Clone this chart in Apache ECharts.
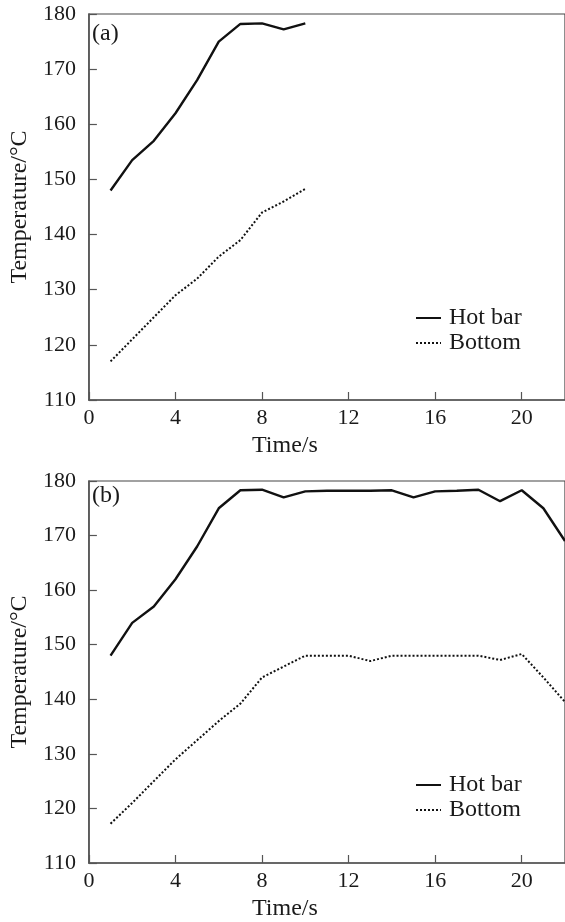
<!DOCTYPE html>
<html>
<head>
<meta charset="utf-8">
<script src="https://cdn.jsdelivr.net/npm/echarts@6/dist/echarts.min.js"></script>
<style>
html,body{margin:0;padding:0;background:#fff;}
#chart{width:565px;height:922px;}
</style>
</head>
<body>
<div id="chart"></div>
<script>
// ---- data ----
var timesA = [1, 2, 3, 4, 5, 6, 7, 8, 9, 10];
var hotA = [148, 153.5, 157, 162, 168, 175, 178.2, 178.3, 177.2, 178.3];
var bottomA = [117, 121, 125, 129, 132, 136, 139, 144, 146, 148.3];

var timesB = [1, 2, 3, 4, 5, 6, 7, 8, 9, 10, 11, 12, 13, 14, 15, 16, 17, 18, 19, 20, 21, 22];
var hotB = [148, 154, 157, 162, 168, 175, 178.3, 178.4, 177, 178.1, 178.2, 178.2, 178.2, 178.3, 177, 178.1, 178.2, 178.4, 176.3, 178.3, 175, 169];
var bottomB = [117.2, 121, 125, 129, 132.5, 136, 139.2, 144, 146, 148, 148, 148, 147, 148, 148, 148, 148, 148, 147.2, 148.3, 144, 139.5];

var xTicks = [0, 4, 8, 12, 16, 20];
var yTicks = [110, 120, 130, 140, 150, 160, 170, 180];
var seriesNames = ['Hot bar', 'Bottom'];
var panelLabels = ['(a)', '(b)'];
var xName = 'Time/s';
var yName = 'Temperature/°C';

function pairs(t, v) { return t.map(function (x, i) { return [x, v[i]]; }); }

var FONT = 'Liberation Serif';
var TXT = '#1a1a1a';
var AX = '#555';

function makeX(gi) {
  return {
    gridIndex: gi, type: 'value', min: 0, max: 22, interval: 4,
    name: xName, nameLocation: 'middle', nameGap: 34,
    nameTextStyle: { fontFamily: FONT, fontSize: 24, color: TXT, padding: [0, 84, 0, 0] },
    axisLine: { lineStyle: { color: AX, width: 1.6 } },
    axisTick: { inside: true, length: 8, lineStyle: { color: AX, width: 1.2 } },
    axisLabel: { fontFamily: FONT, fontSize: 22, color: TXT, margin: 7, showMaxLabel: false },
    splitLine: { show: false }
  };
}
function makeY(gi) {
  return {
    gridIndex: gi, type: 'value', min: 110, max: 180, interval: 10,
    name: yName, nameLocation: 'middle', nameGap: 54,
    nameTextStyle: { fontFamily: FONT, fontSize: 24, color: TXT },
    axisLine: { show: true, lineStyle: { color: AX, width: 1.6 } },
    axisTick: { show: true, inside: true, length: 8, lineStyle: { color: AX, width: 1.2 } },
    axisLabel: { fontFamily: FONT, fontSize: 22, color: TXT, margin: 13 },
    splitLine: { show: false }
  };
}
function makeLegend(top) {
  return {
    orient: 'vertical', left: 410, top: top, itemWidth: 25, itemHeight: 10, itemGap: 1,
    data: seriesNames,
    itemStyle: { color: 'transparent', borderWidth: 0, opacity: 0 },
    textStyle: { fontFamily: FONT, fontSize: 24, lineHeight: 24, color: TXT, padding: [0, 0, 0, 3] }
  };
}
var solidStyle = { color: '#111', width: 2.4, type: 'solid' };
var dotStyle = { color: '#111', width: 2, type: [2, 2] };

var chart = echarts.init(document.getElementById('chart'), null, { renderer: 'canvas' });
chart.setOption({
  animation: false,
  backgroundColor: '#fff',
  color: ['#111', '#222'],
  grid: [
    { left: 86, top: 14, right: -4, height: 386, show: true, borderColor: '#444', borderWidth: 1.2 },
    { left: 86, top: 481, right: -4, height: 386, show: true, borderColor: '#444', borderWidth: 1.2 }
  ],
  xAxis: [makeX(0), makeX(1)],
  yAxis: [makeY(0), makeY(1)],
  legend: [makeLegend(301), makeLegend(768)],
  graphic: [
    { type: 'text', left: 92, top: 22, style: { text: panelLabels[0], font: '24px "Liberation Serif"', fill: TXT } },
    { type: 'text', left: 92, top: 484, style: { text: panelLabels[1], font: '24px "Liberation Serif"', fill: TXT } }
  ],
  series: [
    { name: seriesNames[0], type: 'line', xAxisIndex: 0, yAxisIndex: 0, data: pairs(timesA, hotA), symbol: 'none', lineStyle: solidStyle, itemStyle: { color: '#111' } },
    { name: seriesNames[1], type: 'line', xAxisIndex: 0, yAxisIndex: 0, data: pairs(timesA, bottomA), symbol: 'none', lineStyle: dotStyle, itemStyle: { color: '#111' } },
    { name: seriesNames[0], type: 'line', xAxisIndex: 1, yAxisIndex: 1, data: pairs(timesB, hotB), symbol: 'none', lineStyle: solidStyle, itemStyle: { color: '#111' } },
    { name: seriesNames[1], type: 'line', xAxisIndex: 1, yAxisIndex: 1, data: pairs(timesB, bottomB), symbol: 'none', lineStyle: dotStyle, itemStyle: { color: '#111' } }
  ]
});
</script>
</body>
</html>
